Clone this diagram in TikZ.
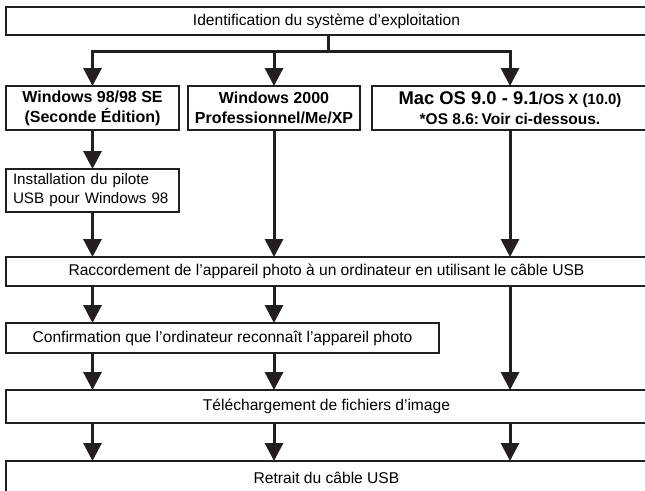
\documentclass[tikz,border=0pt]{standalone}
\usepackage{fontspec}
\setmainfont{Liberation Sans}
\usepackage{tikz}
\usetikzlibrary{arrows.meta,positioning,calc}
\definecolor{flowInk}{RGB}{35,31,32}

\begin{document}
\begin{tikzpicture}[x=1pt,y=-1pt,
  box/.style={draw=flowInk,line width=1.3pt,inner sep=0pt,outer sep=0pt,
              align=center,font=\fontsize{15.6}{19}\selectfont},
  osbox/.style={box,minimum height=44pt,font=\fontsize{16}{20}\selectfont\bfseries},
  flow/.style={-{Triangle[length=18pt,width=18pt]},line width=3pt,draw=flowInk},
  wire/.style={line width=3pt,draw=flowInk}
]
  \useasboundingbox (0,0) rectangle (645,490);

  % top
  \node[box,minimum width=641pt,minimum height=28pt](os) at (326.5,21)
      {Identification du système d’exploitation};
  \coordinate (fork) at (328,51);

  % systems
  \node[osbox,minimum width=173pt](w98) at (92.5,108)
      {Windows 98/98 SE\\(Seconde Édition)};
  \node[osbox,minimum width=172pt](w2k) at (274,108)
      {Windows 2000\\Professionnel/Me/XP};
  \node[osbox,minimum width=276pt](mac) at (510,108)
      {{\fontsize{18.4}{17}\selectfont Mac OS 9.0 - 9.1}{\fontsize{14.9}{17}\selectfont/OS X (10.0)}\\
       {\fontsize{15.5}{17}\selectfont *OS 8.6:\,Voir ci-dessous.}};

  \node[box,minimum height=43pt,text width=159pt,inner xsep=7pt,align=left,
        font=\fontsize{15.2}{19}\selectfont](inst) at (92.5,190.5)
      {Installation du pilote\\USB pour Windows 98};

  % steps
  \node[box,minimum width=641pt,minimum height=29pt](racc) at (326.5,271.5)
      {Raccordement de l’appareil photo à un ordinateur en utilisant le câble USB};
  \node[box,minimum width=433pt,minimum height=30pt](conf) at (222.5,338)
      {Confirmation que l’ordinateur reconnaît l’appareil photo};
  \node[box,minimum width=641pt,minimum height=33pt](tele) at (326.5,406.5)
      {Téléchargement de fichiers d’image};
  \node[box,minimum width=641pt,minimum height=33pt](ret) at (326.5,477.5)
      {Retrait du câble USB};

  % ── fork ──
  \draw[wire](os.south -| fork)--(fork);
  \draw[flow](fork)-|(w98.north);
  \draw[flow](fork)-|(w2k.north);
  \draw[flow](fork)-|(mac.north);

  % ── to Raccordement ──
  \draw[flow](w98)--(inst);
  \draw[flow](inst)--(inst |- racc.north);
  \draw[flow](w2k)--(w2k |- racc.north);
  \draw[flow](mac)--(mac |- racc.north);

  % ── lower steps ──
  \foreach \c in {w98,w2k}{
    \draw[flow](racc.south -| \c)--(conf.north -| \c);
    \draw[flow](conf.south -| \c)--(tele.north -| \c);
  }
  \draw[flow](racc.south -| mac)--(tele.north -| mac);
  \foreach \c in {w98,w2k,mac}{\draw[flow](tele.south -| \c)--(ret.north -| \c);}
\end{tikzpicture}
\end{document}
